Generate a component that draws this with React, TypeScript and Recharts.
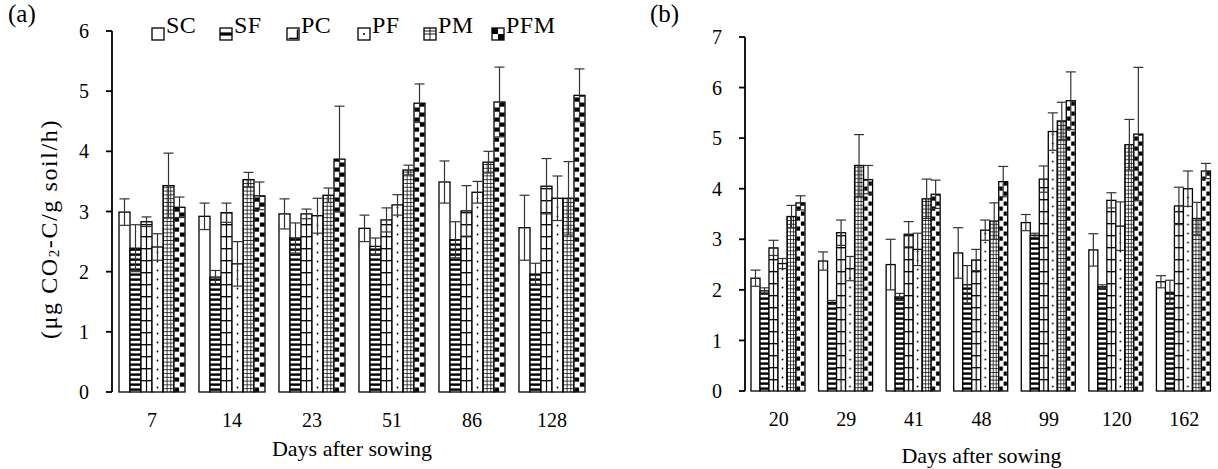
import React from 'react';
import { BarChart, Bar, XAxis, YAxis, ErrorBar, Label } from 'recharts';

const FONT = '"Liberation Serif", "Times New Roman", serif';

const seriesNames = ['SC', 'SF', 'PC', 'PF', 'PM', 'PFM'];

// Panel (a)
const daysA = ['7', '14', '23', '51', '86', '128'];
const scA = [2.99, 2.92, 2.96, 2.72, 3.49, 2.73];
const scErrA = [0.22, 0.22, 0.25, 0.22, 0.35, 0.54];
const sfA = [2.39, 1.91, 2.56, 2.42, 2.53, 1.96];
const sfErrA = [0.39, 0.11, 0.25, 0.14, 0.3, 0.18];
const pcA = [2.83, 2.98, 2.96, 2.86, 3.01, 3.42];
const pcErrA = [0.08, 0.16, 0.08, 0.2, 0.42, 0.46];
const pfA = [2.41, 2.13, 2.93, 3.11, 3.32, 3.22];
const pfErrA = [0.22, 0.37, 0.29, 0.17, 0.18, 0.37];
const pmA = [3.43, 3.53, 3.27, 3.69, 3.82, 3.22];
const pmErrA = [0.54, 0.12, 0.12, 0.08, 0.18, 0.61];
const pfmA = [3.07, 3.26, 3.87, 4.8, 4.82, 4.93];
const pfmErrA = [0.17, 0.23, 0.88, 0.32, 0.58, 0.44];
const yTicksA = [0, 1, 2, 3, 4, 5, 6];

// Panel (b)
const daysB = ['20', '29', '41', '48', '99', '120', '162'];
const scB = [2.23, 2.57, 2.5, 2.73, 3.33, 2.79, 2.16];
const scErrB = [0.16, 0.18, 0.5, 0.5, 0.16, 0.32, 0.12];
const sfB = [1.98, 1.75, 1.86, 2.1, 3.08, 2.06, 1.95];
const sfErrB = [0.06, 0.04, 0.07, 0.38, 0.04, 0.04, 0.24];
const pcB = [2.83, 3.13, 3.1, 2.59, 4.19, 3.77, 3.66];
const pcErrB = [0.15, 0.25, 0.25, 0.21, 0.26, 0.15, 0.37];
const pfB = [2.52, 2.42, 2.8, 3.18, 5.13, 3.26, 4.0];
const pfErrB = [0.1, 0.24, 0.32, 0.2, 0.37, 0.48, 0.35];
const pmB = [3.45, 4.46, 3.8, 3.36, 5.34, 4.87, 3.41];
const pmErrB = [0.22, 0.61, 0.39, 0.36, 0.37, 0.5, 0.32];
const pfmB = [3.72, 4.18, 3.89, 4.14, 5.74, 5.08, 4.35];
const pfmErrB = [0.14, 0.28, 0.28, 0.3, 0.57, 1.32, 0.15];
const yTicksB = [0, 1, 2, 3, 4, 5, 6, 7];

function buildRows(days: string[], vals: number[][], errs: number[][]) {
  return days.map((d, i) => {
    const row: any = { day: d };
    seriesNames.forEach((s, k) => {
      row[s] = vals[k][i];
      row[s + '_err'] = errs[k][i];
    });
    return row;
  });
}

const dataA = buildRows(daysA, [scA, sfA, pcA, pfA, pmA, pfmA], [scErrA, sfErrA, pcErrA, pfErrA, pmErrA, pfmErrA]);
const dataB = buildRows(daysB, [scB, sfB, pcB, pfB, pmB, pfmB], [scErrB, sfErrB, pcErrB, pfErrB, pmErrB, pfmErrB]);

function patternFor(kind: string, id: string, x: number, y: number, w: number) {
  if (kind === 'SF') {
    return (
      <pattern id={id} x={x} y={y} width={w} height={5} patternUnits="userSpaceOnUse">
        <rect width={w} height={5} fill="#fff" />
        <rect y={1.4} width={w} height={2.4} fill="#000" />
      </pattern>
    );
  }
  if (kind === 'PC') {
    return (
      <pattern id={id} x={x} y={y} width={w} height={12} patternUnits="userSpaceOnUse">
        <rect width={w} height={12} fill="#fff" />
        <line x1={0} x2={w} y1={0.7} y2={0.7} stroke="#000" strokeWidth={1.3} />
        <line x1={w / 2} x2={w / 2} y1={0} y2={12} stroke="#000" strokeWidth={1.2} />
      </pattern>
    );
  }
  if (kind === 'PF') {
    return (
      <pattern id={id} x={x} y={y} width={w} height={9} patternUnits="userSpaceOnUse">
        <rect width={w} height={9} fill="#fff" />
        <circle cx={w / 2} cy={4.5} r={0.9} fill="#000" />
      </pattern>
    );
  }
  if (kind === 'PM') {
    const cw = w / 3;
    return (
      <pattern id={id} x={x} y={y} width={cw} height={3.8} patternUnits="userSpaceOnUse">
        <rect width={cw} height={3.8} fill="#fff" />
        <path d={`M0 0.4 H${cw} M0.4 0 V3.8`} stroke="#000" strokeWidth={0.8} />
      </pattern>
    );
  }
  return (
    <pattern id={id} x={x} y={y} width={w} height={10} patternUnits="userSpaceOnUse">
      <rect width={w} height={10} fill="#fff" />
      <rect x={w / 2 + 0.4} y={0.5} width={w / 2 - 0.8} height={4.2} fill="#000" />
      <rect x={0.4} y={5.5} width={w / 2 - 0.8} height={4.2} fill="#000" />
    </pattern>
  );
}

function makeShape(panel: string, kind: string) {
  return (props: any) => {
    const { x, y, width, height, index } = props;
    if (!height || height <= 0) return <g />;
    const id = `pat-${panel}-${kind}-${index}`;
    return (
      <g>
        {kind !== 'SC' && <defs>{patternFor(kind, id, x, y + height, width)}</defs>}
        <rect
          x={x}
          y={y}
          width={width}
          height={height}
          fill={kind === 'SC' ? '#fff' : `url(#${id})`}
          stroke="#000"
          strokeWidth={1.3}
        />
      </g>
    );
  };
}

function LegendIcon({ kind, x, y }: { kind: string; x: number; y: number }) {
  const s = 12;
  let inner: React.ReactNode = null;
  if (kind === 'SF') inner = <rect x={x} y={y + s / 2 - 1.6} width={s} height={3.2} fill="#000" />;
  if (kind === 'PC')
    inner = (
      <path d={`M${x + 1.6} ${y + s - 1.6} H${x + s - 1.6} V${y + 1.6}`} stroke="#000" strokeWidth={1.2} fill="none" />
    );
  if (kind === 'PF') inner = <circle cx={x + s / 2} cy={y + s / 2} r={1} fill="#000" />;
  if (kind === 'PM')
    inner = (
      <path
        d={`M${x} ${y + s / 2} H${x + s} M${x + s / 2} ${y} V${y + s} M${x} ${y + s / 4} H${x + s}`}
        stroke="#000"
        strokeWidth={0.9}
      />
    );
  if (kind === 'PFM')
    inner = (
      <g>
        <rect x={x} y={y} width={s / 2} height={s / 2} fill="#000" />
        <rect x={x + s / 2} y={y + s / 2} width={s / 2} height={s / 2} fill="#000" />
      </g>
    );
  return (
    <g>
      <rect x={x} y={y} width={s} height={s} fill="#fff" />
      {inner}
      <rect x={x} y={y} width={s} height={s} fill="none" stroke="#000" strokeWidth={1.3} />
    </g>
  );
}

const legendX = [152, 220, 287, 358, 424, 492];

const LegendBox = () => (
  <svg width={620} height={50} style={{ position: 'absolute', left: 0, top: 0, overflow: 'visible' }}>
    {seriesNames.map((s, i) => {
      const x = legendX[i];
      return (
        <g key={s}>
          <LegendIcon kind={s} x={x} y={28} />
          <text x={x + 14} y={33} fontFamily={FONT} fontSize={24} letterSpacing={0.5} fill="#000">
            {s}
          </text>
        </g>
      );
    })}
  </svg>
);

const YLabelA = () => {
  const cx = 49;
  const cy = 229;
  return (
    <text
      x={cx}
      y={cy}
      transform={`rotate(-90 ${cx} ${cy})`}
      textAnchor="middle"
      dominantBaseline="central"
      fontFamily={FONT}
      fontSize={24}
      letterSpacing={1.6}
      fill="#000"
    >
      (μg CO
      <tspan fontSize={15} dy={5}>
        2
      </tspan>
      <tspan dy={-5}>-C/g soil/h)</tspan>
    </text>
  );
};

const axisStyle = { stroke: '#000', strokeWidth: 1.8 };
const tickFont = { fill: '#000', fontSize: 20, fontFamily: FONT };

function Panel({ panel, data, width, height, margin, yMax, yTicks, catGap, catHeight, titleOffset, withYLabel }: any) {
  const n = data.length;
  const gridTicks = Array.from({ length: n + 1 }, (_, i) => i);
  return (
    <BarChart
      width={width}
      height={height}
      data={data}
      margin={margin}
      barGap={0}
      barCategoryGap={catGap}
      style={{ fontFamily: FONT }}
    >
      <XAxis
        xAxisId="grid"
        type="number"
        domain={[0, n]}
        ticks={gridTicks}
        tick={false}
        tickSize={7}
        height={0}
        axisLine={axisStyle}
        tickLine={axisStyle}
        allowDataOverflow
      />
      <XAxis
        xAxisId="cat"
        dataKey="day"
        interval={0}
        axisLine={false}
        tickLine={false}
        tickSize={0}
        tickMargin={21}
        height={catHeight}
        tick={tickFont}
      >
        <Label
          value="Days after sowing"
          position="insideBottom"
          offset={titleOffset}
          style={{ fill: '#000', fontSize: 22, fontFamily: FONT }}
        />
      </XAxis>
      <YAxis
        type="number"
        domain={[0, yMax]}
        ticks={yTicks}
        interval={0}
        width={50}
        tickSize={6}
        tickMargin={17}
        axisLine={axisStyle}
        tickLine={axisStyle}
        tick={tickFont}
      >
        {withYLabel ? <Label content={<YLabelA />} /> : null}
      </YAxis>
      {seriesNames.map((s) => (
        <Bar key={s} xAxisId="cat" dataKey={s} isAnimationActive={false} shape={makeShape(panel, s)}>
          <ErrorBar
            dataKey={s + '_err'}
            direction="y"
            width={5}
            stroke="#333"
            strokeWidth={1.2}
            isAnimationActive={false}
          />
        </Bar>
      ))}
    </BarChart>
  );
}

export default function App() {
  return (
    <div
      style={{
        position: 'absolute',
        left: 0,
        top: 0,
        width: 1218,
        height: 469,
        overflow: 'hidden',
        background: '#fff',
        fontFamily: FONT,
      }}
    >
      <div style={{ position: 'absolute', left: 0, top: 0 }}>
        <Panel
          panel="a"
          data={dataA}
          width={620}
          height={469}
          margin={{ top: 31, right: 28, left: 62, bottom: 7 }}
          yMax={6}
          yTicks={yTicksA}
          catGap={7}
          catHeight={70}
          titleOffset={6}
          withYLabel
        />
      </div>
      <div style={{ position: 'absolute', left: 620, top: 0 }}>
        <Panel
          panel="b"
          data={dataB}
          width={600}
          height={469}
          margin={{ top: 37, right: 2, left: 75, bottom: 2 }}
          yMax={7}
          yTicks={yTicksB}
          catGap={6}
          catHeight={76}
          titleOffset={4}
          withYLabel={false}
        />
      </div>
      <LegendBox />
      <div style={{ position: 'absolute', left: 8, top: 0, fontSize: 25, fontFamily: FONT, color: '#000' }}>(a)</div>
      <div style={{ position: 'absolute', left: 650, top: 0, fontSize: 25, fontFamily: FONT, color: '#000' }}>(b)</div>
    </div>
  );
}
